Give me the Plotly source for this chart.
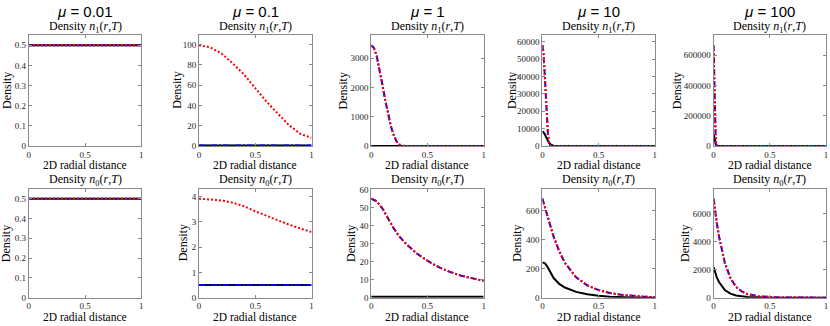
import plotly.graph_objects as go

W, H = 830, 326

mu_labels = ["0.01", "0.1", "1", "10", "100"]
row_titles = ["Density <i>n</i><sub>1</sub>(<i>r</i>,<i>T</i>)", "Density <i>n</i><sub>0</sub>(<i>r</i>,<i>T</i>)"]
x_title = "2D radial distance"
y_title = "Density"

# ---------------- top row: n1 ----------------
# mu = 0.01
n1_a_r = [0, 1]
n1_a_black = [0.5, 0.5]
n1_a_blue = [0.5, 0.5]
n1_a_red = [0.5, 0.5]
# mu = 0.1
n1_b_rk = [0, 1]
n1_b_black = [0.5, 0.5]
n1_b_blue = [0.5, 0.5]
n1_b_rr = [0, 0.1, 0.2, 0.3, 0.4, 0.5, 0.6, 0.7, 0.8, 0.9, 1.0]
n1_b_red = [99.4, 97.2, 91.2, 81.4, 70.5, 57.3, 43.7, 32.0, 20.5, 12.0, 8.0]
# mu = 1
n1_c_rk = [0, 1]
n1_c_black = [0.5, 0.5]
n1_c_rr = [0, 0.025, 0.05, 0.075, 0.1, 0.125, 0.15, 0.175, 0.2, 0.225, 0.25, 0.275, 0.3, 1.0]
n1_c_red = [3450, 3350, 3060, 2620, 2090, 1560, 1080, 680, 370, 160, 50, 10, 0, 0]
n1_c_blue = n1_c_red
# mu = 10
n1_d_rk = [0, 0.01, 0.02, 0.03, 0.04, 0.05, 0.06, 0.08, 0.1, 1]
n1_d_black = [8500, 8000, 7000, 5500, 4000, 2700, 1700, 600, 150, 0]
n1_d_rr = [0, 0.01, 0.02, 0.03, 0.04, 0.05, 0.06, 0.07, 0.08, 0.1, 1]
n1_d_red = [58000, 53500, 42000, 27500, 14500, 6000, 2000, 500, 100, 0, 0]
n1_d_blue = n1_d_red
# mu = 100
n1_e_rk = [0, 0.005, 0.01, 0.015, 0.02, 0.03, 0.04, 1]
n1_e_black = [80000, 65000, 45000, 25000, 12000, 2000, 0, 0]
n1_e_rr = [0, 0.002, 0.004, 0.006, 0.008, 0.01, 0.012, 0.015, 0.02, 0.03, 1]
n1_e_red = [665000, 640000, 570000, 470000, 360000, 250000, 160000, 70000, 10000, 0, 0]
n1_e_blue = n1_e_red

# ---------------- bottom row: n0 ----------------
# mu = 0.01
n0_a_r = [0, 1]
n0_a_black = [0.5, 0.5]
n0_a_blue = [0.5, 0.5]
n0_a_red = [0.5, 0.5]
# mu = 0.1
n0_b_rk = [0, 1]
n0_b_black = [0.5, 0.5]
n0_b_blue = [0.5, 0.5]
n0_b_rr = [0, 0.1, 0.2, 0.3, 0.4, 0.5, 0.6, 0.7, 0.8, 0.9, 1.0]
n0_b_red = [3.92, 3.90, 3.85, 3.76, 3.62, 3.42, 3.24, 3.06, 2.89, 2.74, 2.60]
# mu = 1
n0_c_rk = [0, 1]
n0_c_black = [0.5, 0.5]
n0_c_rr = [0, 0.05, 0.1, 0.15, 0.2, 0.25, 0.3, 0.4, 0.5, 0.6, 0.7, 0.8, 0.9, 1.0]
n0_c_red = [55, 53.5, 49.5, 44, 38.5, 34, 30.5, 24.8, 20.5, 17, 14.3, 12.2, 10.6, 9.3]
n0_c_blue = n0_c_red
# mu = 10
n0_d_rk = [0, 0.02, 0.04, 0.06, 0.08, 0.1, 0.15, 0.2, 0.3, 0.4, 0.5, 0.6, 0.8, 1]
n0_d_black = [242, 238, 220, 190, 160, 135, 95, 70, 40, 23, 13, 7, 2, 0]
n0_d_rr = [0, 0.05, 0.1, 0.15, 0.2, 0.3, 0.4, 0.5, 0.6, 0.7, 0.8, 0.9, 1]
n0_d_red = [682, 545, 420, 320, 240, 140, 85, 52, 32, 20, 12, 7, 4]
n0_d_blue = n0_d_red
# mu = 100
n0_e_rk = [0, 0.01, 0.02, 0.03, 0.05, 0.075, 0.1, 0.15, 0.2, 0.3, 0.4, 0.5, 1]
n0_e_black = [2200, 1900, 1650, 1430, 1100, 780, 550, 290, 160, 50, 15, 5, 0]
n0_e_rr = [0, 0.01, 0.02, 0.03, 0.05, 0.075, 0.1, 0.15, 0.2, 0.25, 0.3, 0.4, 0.5, 0.6, 1]
n0_e_red = [7100, 6450, 5850, 5300, 4350, 3300, 2500, 1400, 780, 450, 260, 90, 30, 10, 0]
n0_e_blue = n0_e_red

x_ticks = [0, 0.5, 1]
top_yticks = [
    [0, 0.1, 0.2, 0.3, 0.4, 0.5],
    [0, 20, 40, 60, 80, 100],
    [0, 1000, 2000, 3000],
    [0, 10000, 20000, 30000, 40000, 50000, 60000],
    [0, 200000, 400000, 600000],
]
bottom_yticks = [
    [0, 0.1, 0.2, 0.3, 0.4, 0.5],
    [0, 1, 2, 3, 4],
    [0, 10, 20, 30, 40, 50, 60],
    [0, 200, 400, 600],
    [0, 2000, 4000, 6000],
]

panels = [
    # (rk, black, rb, blue, rr, red)
    (n1_a_r, n1_a_black, n1_a_r, n1_a_blue, n1_a_r, n1_a_red),
    (n1_b_rk, n1_b_black, n1_b_rk, n1_b_blue, n1_b_rr, n1_b_red),
    (n1_c_rk, n1_c_black, n1_c_rr, n1_c_blue, n1_c_rr, n1_c_red),
    (n1_d_rk, n1_d_black, n1_d_rr, n1_d_blue, n1_d_rr, n1_d_red),
    (n1_e_rk, n1_e_black, n1_e_rr, n1_e_blue, n1_e_rr, n1_e_red),
    (n0_a_r, n0_a_black, n0_a_r, n0_a_blue, n0_a_r, n0_a_red),
    (n0_b_rk, n0_b_black, n0_b_rk, n0_b_blue, n0_b_rr, n0_b_red),
    (n0_c_rk, n0_c_black, n0_c_rr, n0_c_blue, n0_c_rr, n0_c_red),
    (n0_d_rk, n0_d_black, n0_d_rr, n0_d_blue, n0_d_rr, n0_d_red),
    (n0_e_rk, n0_e_black, n0_e_rr, n0_e_blue, n0_e_rr, n0_e_red),
]
yticks_all = top_yticks + bottom_yticks

# layout geometry (pixels)
lefts = [27, 198, 371, 543, 715]
pw = 113
rows_px = [(32, 146), (190, 302)]
ytitle_off = [[-22.5, -23, -28.5, -31, -37], [-23, -16, -20.5, -25, -28]]
xtitle_y = [166, 322]
subtitle_y = [24, 181]

fig = go.Figure()
layout = dict(
    width=W, height=H, margin=dict(l=0, r=0, t=0, b=0),
    paper_bgcolor="white", plot_bgcolor="white", showlegend=False,
)
annotations = []
axcol = "#8a8a8a"
txtcol = "#262626"
serif = "'Liberation Serif', 'Times New Roman', Times, serif"

for i, (rk, k, rb, b, rr, rd) in enumerate(panels):
    row, col = divmod(i, 5)
    n = i + 1
    xa = "x" if n == 1 else f"x{n}"
    ya = "y" if n == 1 else f"y{n}"
    fig.add_trace(go.Scatter(x=rk, y=k, mode="lines", line=dict(color="black", width=2),
                             xaxis=xa, yaxis=ya))
    fig.add_trace(go.Scatter(x=rb, y=b, mode="lines",
                             line=dict(color="#0000ff", width=2, dash="6px,2px,2px,2px"),
                             xaxis=xa, yaxis=ya))
    fig.add_trace(go.Scatter(x=rr, y=rd, mode="lines",
                             line=dict(color="#ff0000", width=2, dash="2px,2px"),
                             xaxis=xa, yaxis=ya))
    ymax = 1.1 * max(max(k), max(b), max(rd))
    x0 = lefts[col] / W
    x1 = (lefts[col] + pw) / W
    top, bot = rows_px[row]
    y1 = 1 - top / H
    y0 = 1 - bot / H
    common = dict(showline=True, linecolor=axcol, linewidth=1, mirror="ticks",
                  ticks="inside", ticklen=3, tickcolor=axcol, showgrid=False,
                  zeroline=False, tickfont=dict(family=serif, size=9, color=txtcol))
    layout["xaxis" if n == 1 else f"xaxis{n}"] = dict(
        domain=[x0, x1], range=[0, 1], anchor=ya, tickvals=x_ticks, tickformat="~g", **common)
    layout["yaxis" if n == 1 else f"yaxis{n}"] = dict(
        domain=[y0, y1], range=[0, ymax], anchor=xa, tickvals=yticks_all[i], tickformat="~g",
        **common)
    cx = (lefts[col] + pw / 2) / W
    # subplot title
    annotations.append(dict(x=cx, y=1 - subtitle_y[row] / H, xref="paper", yref="paper",
                            text=row_titles[row], showarrow=False, xanchor="center", yanchor="middle",
                            font=dict(family=serif, size=12, color="black")))
    # x title
    annotations.append(dict(x=cx, y=1 - xtitle_y[row] / H, xref="paper", yref="paper",
                            text=x_title, showarrow=False, xanchor="center", yanchor="middle",
                            font=dict(family=serif, size=11.5, color="black")))
    # y title
    annotations.append(dict(x=(lefts[col] + ytitle_off[row][col]) / W, y=(y0 + y1) / 2,
                            xref="paper", yref="paper", text=y_title, textangle=-90,
                            showarrow=False, xanchor="center", yanchor="middle",
                            font=dict(family=serif, size=12, color="black")))
    if row == 0:
        annotations.append(dict(x=cx, y=1 - 8 / H, xref="paper", yref="paper",
                                text=f"<i>μ</i> = {mu_labels[col]}", showarrow=False,
                                xanchor="center", yanchor="middle",
                                font=dict(family="Liberation Sans", size=15, color="black")))

layout["annotations"] = annotations
fig.update_layout(**layout)
fig.write_html("out.html", config={"displayModeBar": False},
               post_script="document.body.style.margin='0';document.body.style.padding='0';")
